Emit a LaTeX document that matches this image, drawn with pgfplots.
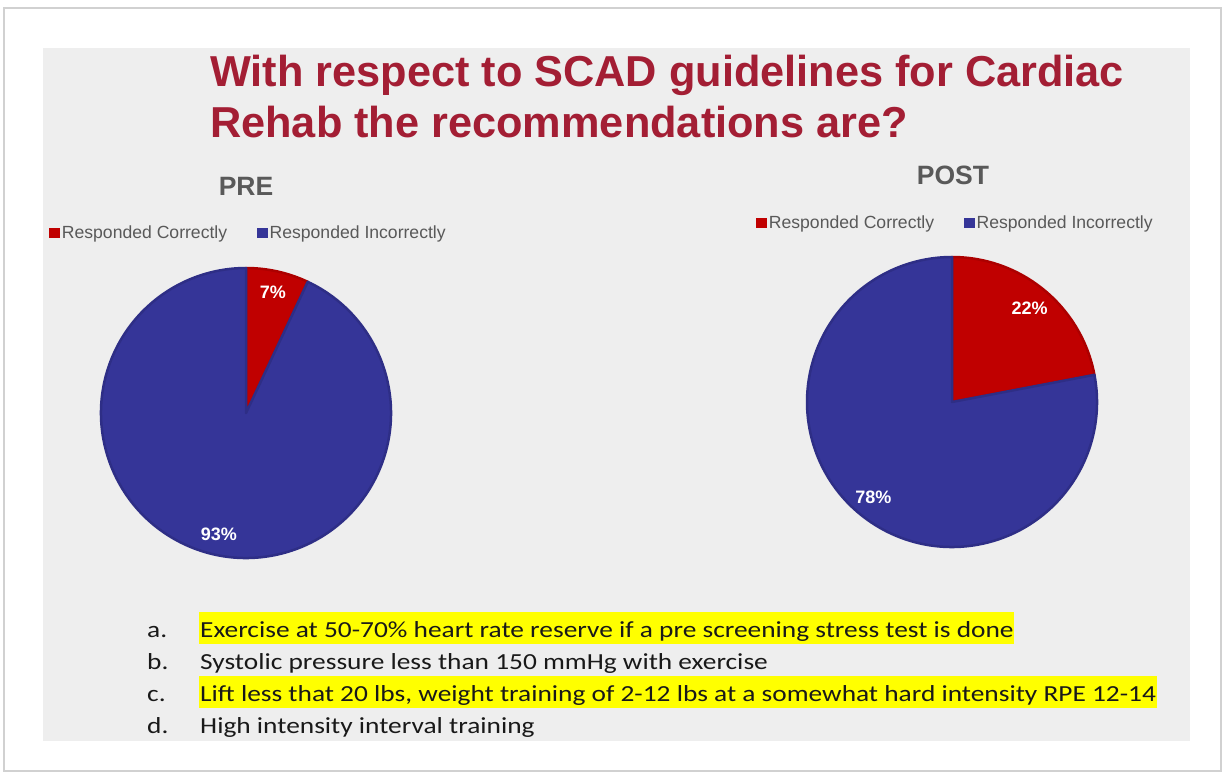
\documentclass[border=0pt]{standalone}
\usepackage{pgfplots}
\pgfplotsset{compat=1.18}
\usepackage{pgfplotstable}
\usepackage{fontspec}
\setmainfont{Liberation Sans}
\newfontfamily\calibri{Carlito}[FakeStretch=1.19]
\definecolor{titlered}{RGB}{163,30,52}
\definecolor{pred}{RGB}{192,0,0}
\definecolor{predD}{RGB}{172,0,0}
\definecolor{pblue}{RGB}{53,53,152}
\definecolor{pblueD}{RGB}{46,46,134}
\definecolor{txtgray}{RGB}{89,89,89}
\definecolor{bggray}{RGB}{238,238,238}
\definecolor{hl}{RGB}{255,255,0}
\definecolor{listtxt}{RGB}{25,25,25}

\pgfplotstableread{
label value
Correct 7
Incorrect 93
}\pretable
\pgfplotstableread{
label value
Correct 22
Incorrect 78
}\posttable

\pgfplotstablegetelem{0}{value}\of\pretable \let\preC\pgfplotsretval
\pgfplotstablegetelem{1}{value}\of\pretable \let\preI\pgfplotsretval
\pgfplotstablegetelem{0}{value}\of\posttable \let\postC\pgfplotsretval
\pgfplotstablegetelem{1}{value}\of\posttable \let\postI\pgfplotsretval

\pgfmathsetmacro\preEnd{90-3.6*\preC}
\pgfmathsetmacro\preMidC{90-1.8*\preC}
\pgfmathsetmacro\preMidI{90-3.6*\preC-1.8*\preI}
\pgfmathsetmacro\postEnd{90-3.6*\postC}
\pgfmathsetmacro\postMidC{90-1.8*\postC}
\pgfmathsetmacro\postMidI{90-3.6*\postC-1.8*\postI}

\pgfplotsset{
  pieaxis/.style={
    width=290pt, height=290pt, scale only axis,
    xmin=-1, xmax=1, ymin=-1, ymax=1,
    hide axis, clip=false,
    legend columns=2,
    legend image code/.code={\fill[##1] (0pt,-4.5pt) rectangle (10pt,4.5pt);},
    legend style={draw=none, fill=none, inner sep=0pt, outer sep=0pt,
      anchor=west,
      font=\fontsize{17.6}{17.6}\selectfont, text=txtgray,
      nodes={inner xsep=2.5pt, inner ysep=0pt},
      /tikz/every even column/.append style={column sep=27pt}},
    legend cell align=left,
  },
}
\tikzset{
  wedgeC/.style={fill=pred, draw=predD, line width=2.5pt, line join=round},
  wedgeI/.style={fill=pblue, draw=pblueD, line width=2.5pt, line join=round},
  plabel/.style={text=white, font=\bfseries\fontsize{18}{18}\selectfont},
}

\begin{document}
\begin{tikzpicture}[x=1pt,y=1pt]
% page and frame
\fill[white] (0,0) rectangle (1225,-774);
\draw[black!18, line width=1.5pt] (4,-8) rectangle (1221,-771);
\fill[bggray] (43,-48) rectangle (1190,-741);

% title
\node[anchor=base west, inner sep=0, text=titlered, font=\bfseries\fontsize{43.3}{51}\selectfont] at (210,-86) {With respect to SCAD guidelines for Cardiac};
\node[anchor=base west, inner sep=0, text=titlered, font=\bfseries\fontsize{43.3}{51}\selectfont] at (210,-137) {Rehab the recommendations are?};

% chart titles
\node[anchor=base, inner sep=0, text=txtgray, font=\bfseries\fontsize{26.5}{26.5}\selectfont] at (246,-195) {PRE};
\node[anchor=base, inner sep=0, text=txtgray, font=\bfseries\fontsize{26.5}{26.5}\selectfont] at (953,-184) {POST};

% PRE pie
\begin{axis}[pieaxis, at={(246pt,-413pt)}, anchor=center,
  legend style={at={(-0.1793,1.1207)}}]
\fill[wedgeC] (axis cs:0,0) -- (axis cs:0,1) arc[start angle=90, end angle=\preEnd, radius=1] -- cycle;
\fill[wedgeI] (axis cs:0,0) -- (axis cs:{cos(\preEnd)},{sin(\preEnd)}) arc[start angle=\preEnd, end angle=-270, radius=1] -- cycle;
\node[plabel] at (axis cs:{0.85*cos(\preMidC)},{0.85*sin(\preMidC)}) {\preC\%};
\node[plabel] at (axis cs:{0.86*cos(\preMidI)},{0.86*sin(\preMidI)}) {\preI\%};
\addlegendimage{pred}
\addlegendentry{Responded Correctly}
\addlegendimage{pblue}
\addlegendentry{Responded Incorrectly}
\end{axis}

% POST pie
\begin{axis}[pieaxis, at={(952pt,-402pt)}, anchor=center,
  legend style={at={(-0.1759,1.119)}}]
\fill[wedgeC] (axis cs:0,0) -- (axis cs:0,1) arc[start angle=90, end angle=\postEnd, radius=1] -- cycle;
\fill[wedgeI] (axis cs:0,0) -- (axis cs:{cos(\postEnd)},{sin(\postEnd)}) arc[start angle=\postEnd, end angle=-270, radius=1] -- cycle;
\node[plabel] at (axis cs:{0.84*cos(\postMidC)},{0.84*sin(\postMidC)}) {\postC\%};
\node[plabel] at (axis cs:{0.85*cos(\postMidI)},{0.85*sin(\postMidI)}) {\postI\%};
\addlegendimage{pred}
\addlegendentry{Responded Correctly}
\addlegendimage{pblue}
\addlegendentry{Responded Incorrectly}
\end{axis}

% answer list
\begin{scope}[every node/.style={inner sep=0, text=listtxt, font=\calibri\fontsize{23}{23}\selectfont}]
\node[anchor=base west] at (147,-637) {a.};
\node[anchor=base west] at (147,-669) {b.};
\node[anchor=base west] at (147,-701) {c.};
\node[anchor=base west] at (147,-733) {d.};
\node[anchor=base west, fill=hl, inner xsep=1pt, text height=25pt, text depth=7pt] at (199,-637) {Exercise at 50-70\% heart rate reserve if a pre screening stress test is done};
\node[anchor=base west] at (200,-669) {Systolic pressure less than 150 mmHg with exercise};
\node[anchor=base west, fill=hl, inner xsep=1pt, text height=25pt, text depth=7pt] at (199,-701) {Lift less that 20 lbs, weight training of 2-12 lbs at a somewhat hard intensity RPE 12-14};
\node[anchor=base west] at (200,-733) {High intensity interval training};
\end{scope}
\end{tikzpicture}
\end{document}
